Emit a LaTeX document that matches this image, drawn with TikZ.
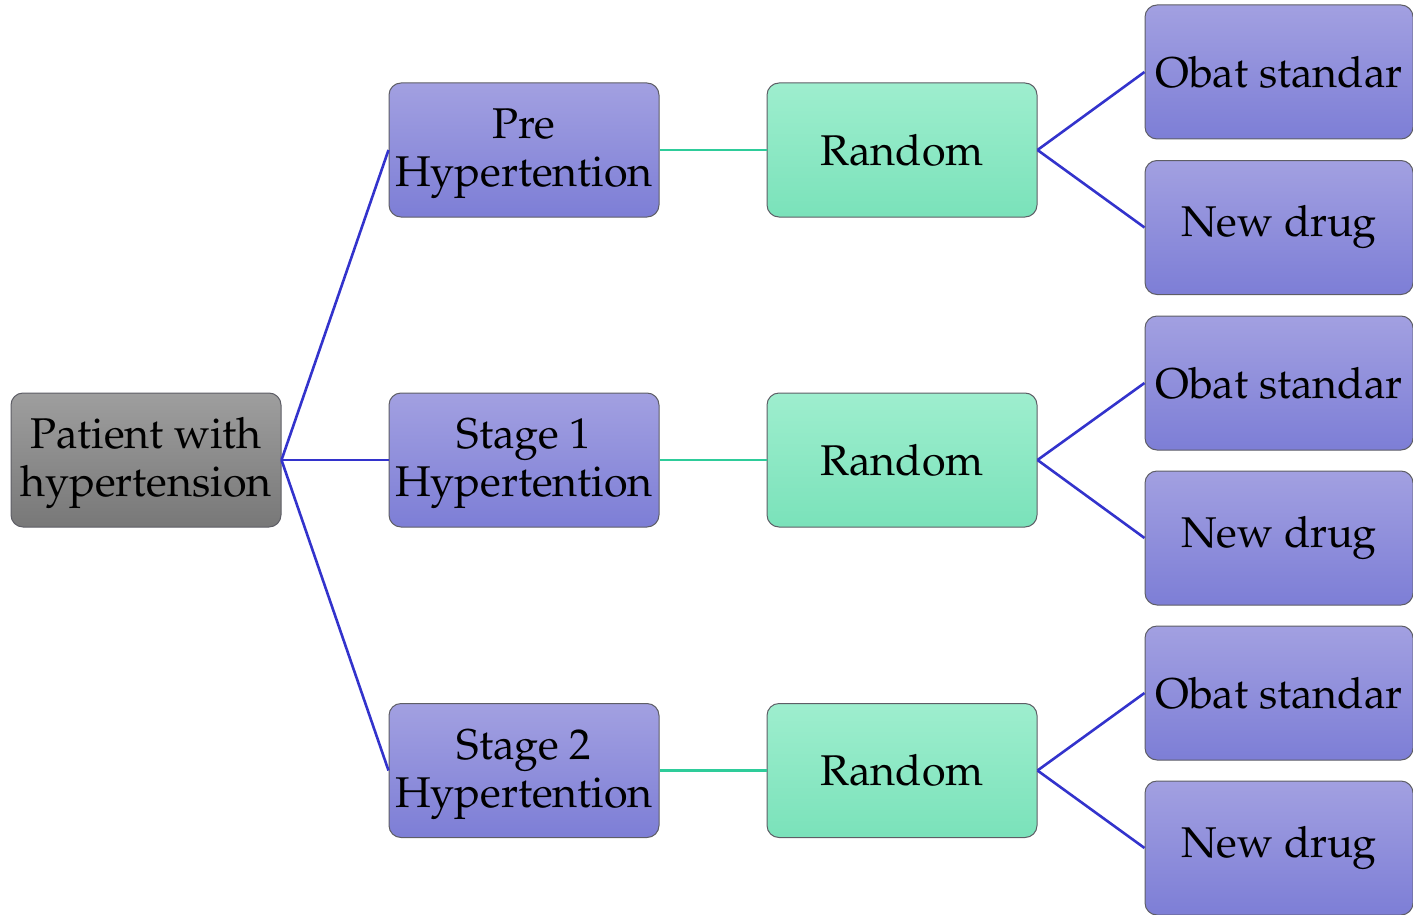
\documentclass[tikz,border=0pt]{standalone}
\usepackage[T1]{fontenc}
\usepackage{mathpazo}
\definecolor{edgeblue}{HTML}{3333CC}
\definecolor{edgegreen}{HTML}{2ECC9A}
\definecolor{frame}{HTML}{5E5E66}
\tikzset{
  box/.style={draw=frame, line width=0.5pt, rounded corners=6pt,
    minimum width=135pt, minimum height=67pt, inner sep=0pt,
    align=center, font=\fontsize{21.5}{24}\selectfont},
  graybox/.style={box, top color=gray!80!white!95, bottom color=black!53},
  stagebox/.style={box, top color={rgb,255:red,162;green,160;blue,225}, bottom color={rgb,255:red,125;green,126;blue,214}},
  randbox/.style={box, top color={rgb,255:red,158;green,238;blue,206}, bottom color={rgb,255:red,122;green,226;blue,186}},
  leafbox/.style={stagebox, minimum width=134pt},
  blueedge/.style={draw=edgeblue, line width=1.3pt},
  greenedge/.style={draw=edgegreen, line width=1.3pt}
}
\begin{document}
\begin{tikzpicture}[x=0.5pt, y=-0.5pt]
\useasboundingbox (0,0) rectangle (1413,915);

\node[graybox] (pat) at (146,460) {\rule{0pt}{19pt}Patient with\\hypertension};

\node[stagebox] (pre) at (524,150) {\rule{0pt}{19pt}Pre\\Hypertention};
\node[stagebox] (st1) at (524,460) {\rule{0pt}{19pt}Stage 1\\Hypertention};
\node[stagebox] (st2) at (524,770.5) {\rule{0pt}{19pt}Stage 2\\Hypertention};

\node[randbox] (r1) at (902,150) {Random};
\node[randbox] (r2) at (902,460) {Random};
\node[randbox] (r3) at (902,770.5) {Random};

\node[leafbox] (l1) at (1279,72) {Obat standar};
\node[leafbox] (l2) at (1279,227.5) {New drug};
\node[leafbox] (l3) at (1279,383) {Obat standar};
\node[leafbox] (l4) at (1279,538) {New drug};
\node[leafbox] (l5) at (1279,693) {Obat standar};
\node[leafbox] (l6) at (1279,848) {New drug};

\draw[blueedge] (pat.east) -- (pre.west);
\draw[blueedge] (pat.east) -- (st1.west);
\draw[blueedge] (pat.east) -- (st2.west);

\draw[greenedge] (pre.east) -- (r1.west);
\draw[greenedge] (st1.east) -- (r2.west);
\draw[greenedge] (st2.east) -- (r3.west);

\draw[blueedge] (r1.east) -- (l1.west);
\draw[blueedge] (r1.east) -- (l2.west);
\draw[blueedge] (r2.east) -- (l3.west);
\draw[blueedge] (r2.east) -- (l4.west);
\draw[blueedge] (r3.east) -- (l5.west);
\draw[blueedge] (r3.east) -- (l6.west);
\end{tikzpicture}
\end{document}
